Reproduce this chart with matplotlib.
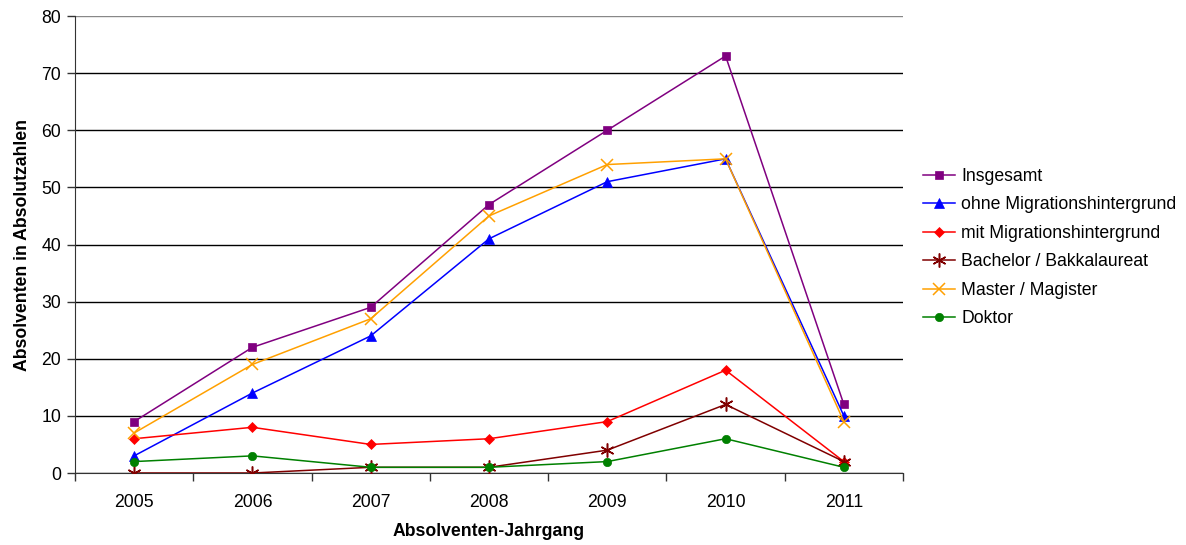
import matplotlib
matplotlib.use("Agg")
import matplotlib.pyplot as plt
from matplotlib.ticker import FixedLocator

plt.rcParams['font.family'] = ['Liberation Sans', 'DejaVu Sans']

years = ["2005", "2006", "2007", "2008", "2009", "2010", "2011"]
insgesamt = [9, 22, 29, 47, 60, 73, 12]
ohne_migration = [3, 14, 24, 41, 51, 55, 10]
mit_migration = [6, 8, 5, 6, 9, 18, 2]
bachelor = [0, 0, 1, 1, 4, 12, 2]
master = [7, 19, 27, 45, 54, 55, 9]
doktor = [2, 3, 1, 1, 2, 6, 1]

series = [
    ("Insgesamt", insgesamt, "#800080", "s", 6),
    ("ohne Migrationshintergrund", ohne_migration, "#0000ff", "^", 7),
    ("mit Migrationshintergrund", mit_migration, "#ff0000", "D", 5),
    ("Bachelor / Bakkalaureat", bachelor, "#800000", (6, 2, 0), 10),
    ("Master / Magister", master, "#ffa000", "x", 9),
    ("Doktor", doktor, "#008000", "o", 6),
]

FS = 12.7

fig = plt.figure(figsize=(11.86, 5.45), dpi=100)
ax = fig.add_axes([0.0632, 0.1321, 0.6982, 0.8385])

x = list(range(len(years)))
for label, vals, color, marker, ms in series:
    ax.plot(x, vals, color=color, marker=marker, markersize=ms, linewidth=1.1,
            markeredgewidth=1.1 if marker in ("x", (6, 2, 0)) else 0.5,
            markeredgecolor=color, label=label, zorder=3)

ax.set_xlim(-0.5, len(years) - 0.5)
ax.set_ylim(0, 80)
ax.set_yticks(range(0, 81, 10))
ax.set_xticks(x)
ax.set_xticklabels(years)
ax.xaxis.set_minor_locator(FixedLocator([i - 0.5 for i in range(len(years) + 1)]))
ax.tick_params(axis='x', which='major', length=0, labelsize=FS, pad=15)
ax.tick_params(axis='x', which='minor', length=6, width=1, color='#333333', direction='out')
ax.tick_params(axis='y', length=6, width=1, color='#333333', labelsize=FS, pad=4)

ax.grid(axis='y', color='black', linewidth=1)
ax.set_axisbelow(True)
for side in ("top", "right"):
    ax.spines[side].set_visible(False)
ax.spines['left'].set_color('#333333')
ax.spines['bottom'].set_color('#333333')
ax.yaxis.get_gridlines()[-1].set_color('#888888')

ax.set_xlabel("Absolventen-Jahrgang", fontsize=FS, fontweight='bold', labelpad=9)
ax.set_ylabel("Absolventen in Absolutzahlen", fontsize=FS, fontweight='bold', labelpad=7)

fig.legend(loc='upper left', bbox_to_anchor=(0.771, 0.708), frameon=False,
           fontsize=FS, handlelength=1.8, labelspacing=0.65, handletextpad=0.35,
           borderpad=0)

fig.savefig("out.png", dpi=100)
